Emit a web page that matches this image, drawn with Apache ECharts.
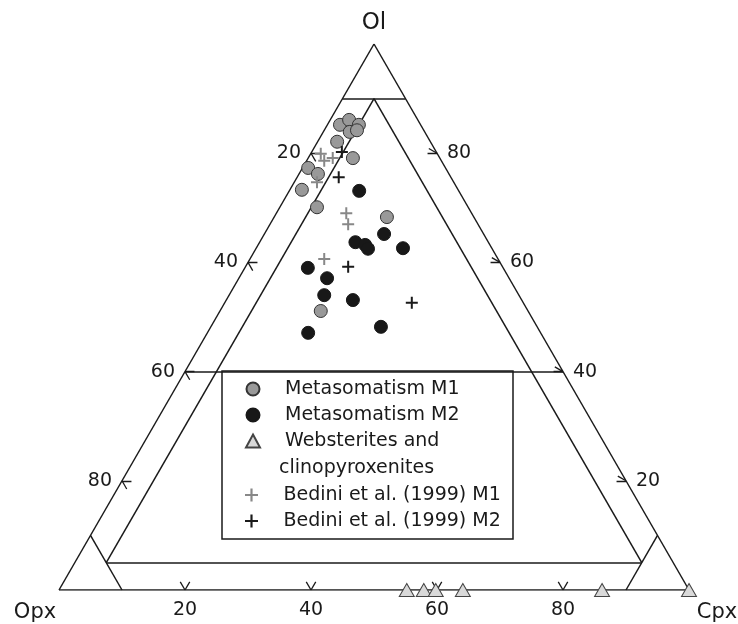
<!DOCTYPE html>
<html><head><meta charset="utf-8">
<script src="https://cdn.jsdelivr.net/npm/echarts@6/dist/echarts.min.js"></script>
<style>html,body{margin:0;padding:0;background:#fff}#c{width:738px;height:624px}</style>
</head><body><div id="c"></div>
<script>
// ---- data (ternary %: Ol and Cpx; Opx = 100 - Ol - Cpx) ----
const m1Ol  = [85.2, 86.1, 85.2, 83.9, 84.2, 82.1, 79.1, 77.3, 76.2, 73.3, 70.1, 68.3, 51.1];
const m1Cpx = [2.0, 3.0, 5.0, 4.2, 5.2, 3.1, 7.1, 0.9, 3.0, 1.9, 5.9, 17.9, 16.0];
const m2Ol  = [73.1, 65.2, 63.7, 63.2, 62.5, 62.6, 59.0, 57.1, 54.0, 53.1, 47.1, 48.2];
const m2Cpx = [11.1, 19.0, 15.2, 17.0, 17.8, 23.3, 10.0, 14.0, 15.1, 20.1, 16.0, 27.0];
const webOl  = [0, 0, 0, 0, 0, 0];
const webCpx = [55.2, 57.9, 59.8, 64.1, 86.2, 100];
const bedM1Ol  = [79.9, 78.6, 79.1, 74.7, 69.0, 67.0, 60.6];
const bedM1Cpx = [1.6, 2.8, 3.9, 3.6, 11.1, 12.4, 11.8];
const bedM2Ol  = [80.2, 75.6, 59.2, 52.6];
const bedM2Cpx = [4.8, 6.6, 16.3, 29.7];
const tickValues = [20, 40, 60, 80];
const cornerLabels = ['Ol', 'Opx', 'Cpx'];
const seriesNames = ['Metasomatism M1', 'Metasomatism M2', 'Websterites and clinopyroxenites',
                     'Bedini et al. (1999) M1', 'Bedini et al. (1999) M2'];

// ---- ternary -> cartesian ----
const S3 = Math.sqrt(3) / 2;
function tern(ol, cpx) { return [cpx + ol / 2, ol * S3]; }
function pts(olArr, cpxArr) { return olArr.map((o, i) => tern(o, cpxArr[i])); }

// structural lines given as [ol, cpx] pairs
const frame = [
  [[0, 0], [0, 100]], [[0, 0], [100, 0]], [[100, 0], [0, 100]],
  [[90, 0], [90, 10]], [[10, 0], [0, 10]], [[10, 90], [0, 90]],
  [[90, 5], [5, 5]], [[90, 5], [5, 90]], [[5, 5], [5, 90]], [[40, 0], [40, 60]]
];
const frameData = frame.map(s => ({ coords: [tern(s[0][0], s[0][1]), tern(s[1][0], s[1][1])] }));

// tick marks
const A = 1.5;
const tickData = [];
tickValues.forEach(v => {
  const b = tern(0, v);             // bottom: Cpx axis
  tickData.push({ coords: [b, [b[0] - A / 2, b[1] + A * S3]] });
  tickData.push({ coords: [b, [b[0] + A / 2, b[1] + A * S3]] });
  const l = tern(100 - v, 0);       // left: Opx axis
  tickData.push({ coords: [l, [l[0] + A, l[1]]] });
  tickData.push({ coords: [l, [l[0] + A / 2, l[1] - A * S3]] });
  const r = tern(v, 100 - v);       // right: Ol axis
  tickData.push({ coords: [r, [r[0] - A, r[1]]] });
  tickData.push({ coords: [r, [r[0] - A * S3, r[1] + A / 2]] });
});

// labels
const font = 'DejaVu Sans';
const txt = '#1a1a1a';
const labelData = [];
tickValues.forEach(v => {
  labelData.push({ value: tern(0, v), name: String(v), label: { position: [0, 20], align: 'center', verticalAlign: 'middle' } });
  labelData.push({ value: tern(100 - v, 0), name: String(v), label: { position: [-10, 0], align: 'right', verticalAlign: 'middle' } });
  labelData.push({ value: tern(v, 100 - v), name: String(v), label: { position: [10, 0], align: 'left', verticalAlign: 'middle' } });
});
labelData.push({ value: tern(100, 0), name: cornerLabels[0], label: { position: [0, -21], align: 'center', verticalAlign: 'middle', fontSize: 23 } });
labelData.push({ value: tern(0, 0), name: cornerLabels[1], label: { position: [-24, 23], align: 'center', verticalAlign: 'middle', fontSize: 21 } });
labelData.push({ value: tern(0, 100), name: cornerLabels[2], label: { position: [28, 23], align: 'center', verticalAlign: 'middle', fontSize: 21 } });

const crossPath = 'path://M5,0H7V5H12V7H7V12H5V7H0V5H5Z';
const legendText = { fontFamily: font, fontSize: 19, lineHeight: 20, color: txt, padding: [0, 0, 0, 20] };

const chart = echarts.init(document.getElementById('c'));
chart.setOption({
  animation: false,
  backgroundColor: '#fff',
  grid: { left: 59, top: 44, width: 630, height: 546 },
  xAxis: { type: 'value', min: 0, max: 100, show: false },
  yAxis: { type: 'value', min: 0, max: 100 * S3, show: false },
  legend: [
    { data: seriesNames.slice(0, 3), orient: 'vertical', left: 245, top: 379, padding: 0,
      itemWidth: 14, itemHeight: 13, itemGap: 6, selectedMode: false,
      formatter: n => n === seriesNames[2] ? 'Websterites and' : n,
      textStyle: legendText },
    { data: seriesNames.slice(3), orient: 'vertical', left: 245, top: 485, padding: 0,
      itemWidth: 14, itemHeight: 13, itemGap: 6, selectedMode: false,
      textStyle: legendText }
  ],
  graphic: [
    { type: 'rect', shape: { x: 222, y: 371, width: 291, height: 168 }, z: 0,
      style: { fill: '#fff', stroke: '#1a1a1a', lineWidth: 1.5 } },
    { type: 'text', x: 279, y: 468, z: 10,
      style: { text: 'clinopyroxenites', fontFamily: font, fontSize: 19, fill: txt, verticalAlign: 'middle' } }
  ],
  series: [
    { type: 'lines', coordinateSystem: 'cartesian2d', z: 1, silent: true, data: frameData,
      lineStyle: { color: '#1a1a1a', width: 1.5, opacity: 1 } },
    { type: 'lines', coordinateSystem: 'cartesian2d', z: 1, silent: true, data: tickData,
      lineStyle: { color: '#1a1a1a', width: 1.3, opacity: 1 } },
    { type: 'scatter', name: 'labels', symbolSize: 0, silent: true, z: 2, clip: false, data: labelData,
      itemStyle: { opacity: 1 },
      label: { show: true, formatter: p => p.name, fontFamily: font, fontSize: 19, color: txt } },
    { type: 'scatter', name: seriesNames[0], data: pts(m1Ol, m1Cpx), symbol: 'circle', symbolSize: 13, z: 3, clip: false,
      itemStyle: { color: '#999999', borderColor: '#333', borderWidth: 1, opacity: 1 } },
    { type: 'scatter', name: seriesNames[1], data: pts(m2Ol, m2Cpx), symbol: 'circle', symbolSize: 13, z: 3, clip: false,
      itemStyle: { color: '#181818', borderColor: '#181818', borderWidth: 1, opacity: 1 } },
    { type: 'scatter', name: seriesNames[2], data: pts(webOl, webCpx), symbol: 'triangle', symbolSize: [15, 13], z: 3, clip: false,
      itemStyle: { color: '#d9d9d9', borderColor: '#444', borderWidth: 1, opacity: 1 } },
    { type: 'scatter', name: seriesNames[3], data: pts(bedM1Ol, bedM1Cpx), symbol: crossPath, symbolSize: 12, z: 4, clip: false,
      itemStyle: { color: '#888888', opacity: 1 } },
    { type: 'scatter', name: seriesNames[4], data: pts(bedM2Ol, bedM2Cpx), symbol: crossPath, symbolSize: 12, z: 4, clip: false,
      itemStyle: { color: '#1a1a1a', opacity: 1 } }
  ]
});
</script>
</body></html>
